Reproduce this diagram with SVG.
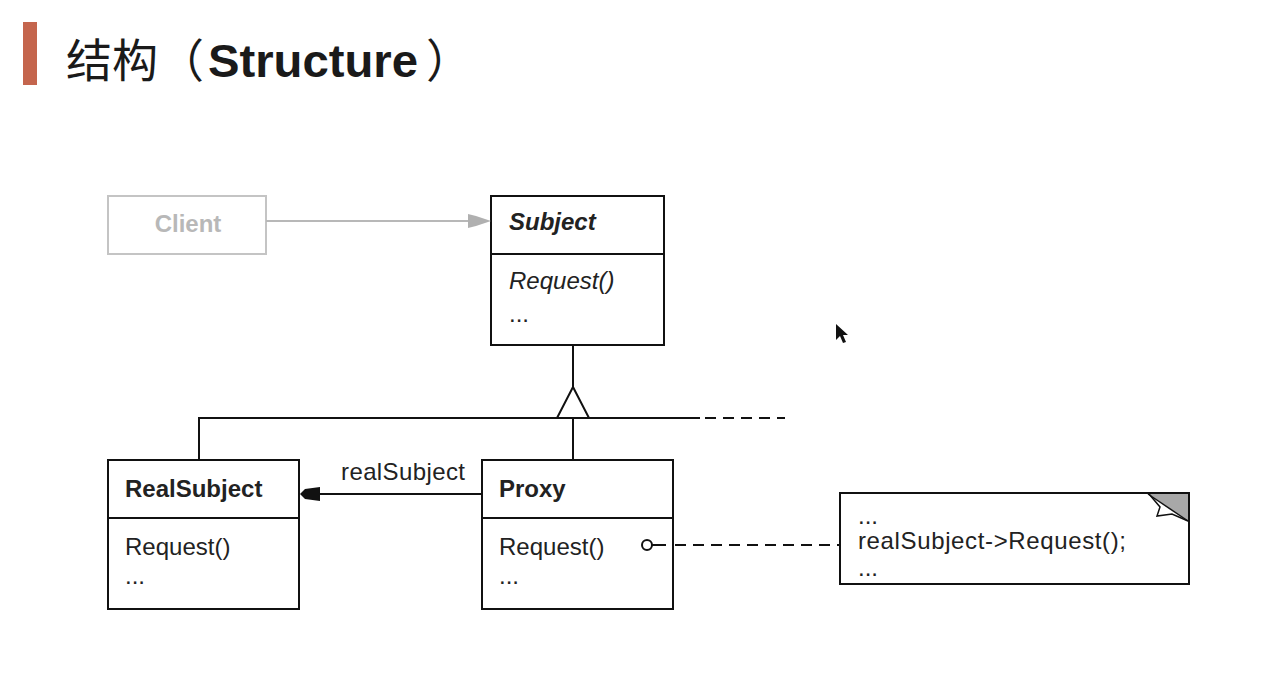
<svg xmlns="http://www.w3.org/2000/svg" width="1284" height="685" viewBox="0 0 1284 685">
  <style>
    .box { fill: #ffffff; stroke: #111111; stroke-width: 2; }
    .ln { fill: none; stroke: #111111; stroke-width: 2; }
    .dash { fill: none; stroke: #111111; stroke-width: 2; stroke-dasharray: 11 7; }
    .t { font-family: "Liberation Sans", Arial, sans-serif; font-size: 24px; fill: #222222; }
    .b { font-weight: bold; }
    .i { font-style: italic; }
    .title { font-family: "Liberation Sans", "Noto Sans CJK SC", sans-serif; font-size: 46px; fill: #1a1a1a; }
  </style>

  <rect width="1284" height="685" fill="#ffffff"/>

  <!-- heading -->
  <g id="heading">
    <rect x="23" y="22" width="14" height="63" fill="#c4654d"/>
    <text class="title" x="66" y="77" font-family="'Noto Sans CJK SC', sans-serif">结构</text>
    <text class="title" x="158" y="77" font-family="'Noto Sans CJK SC', sans-serif">（</text>
    <text class="title b" x="208" y="77" textLength="210" lengthAdjust="spacingAndGlyphs">Structure</text>
    <text class="title" x="426" y="77" font-family="'Noto Sans CJK SC', sans-serif">）</text>
  </g>

  <g id="client">
    <rect x="108" y="196" width="158" height="58" fill="#ffffff" stroke="#c4c4c4" stroke-width="2"/>
    <text class="t b" x="188" y="232" text-anchor="middle" style="fill:#b8b8b8">Client</text>
  </g>

  <g id="subject">
    <rect class="box" x="491" y="196" width="173" height="149"/>
    <line class="ln" x1="491" y1="254" x2="664" y2="254"/>
    <text class="t b i" x="509" y="230">Subject</text>
    <text class="t i" x="509" y="289">Request()</text>
    <text class="t" x="509" y="322">...</text>
  </g>

  <g id="realsubject">
    <rect class="box" x="108" y="460" width="191" height="149"/>
    <line class="ln" x1="108" y1="518" x2="299" y2="518"/>
    <text class="t b" x="125" y="497">RealSubject</text>
    <text class="t" x="125" y="555">Request()</text>
    <text class="t" x="125" y="584">...</text>
  </g>

  <g id="proxy">
    <rect class="box" x="482" y="460" width="191" height="149"/>
    <line class="ln" x1="482" y1="518" x2="673" y2="518"/>
    <text class="t b" x="499" y="497">Proxy</text>
    <text class="t" x="499" y="555">Request()</text>
    <text class="t" x="499" y="584">...</text>
  </g>

  <g id="note">
    <rect class="box" x="840" y="493" width="349" height="91"/>
    <polygon points="1148,494 1188,494 1188,521" fill="#a8a8a8"/>
    <polyline points="1149,494 1160,507 1157,516 1172,514 1188,521" fill="#ffffff" stroke="#111111" stroke-width="1.5"/>
    <line x1="1148" y1="494" x2="1188" y2="521" stroke="#111111" stroke-width="1.5"/>
    <text class="t" x="858" y="524">...</text>
    <text class="t" x="858" y="549" textLength="268">realSubject-&gt;Request();</text>
    <text class="t" x="858" y="576">...</text>
  </g>

  <!-- connectors -->
  <g id="connectors">
    <!-- Client -> Subject -->
    <line x1="266" y1="221" x2="470" y2="221" stroke="#b8b8b8" stroke-width="2"/>
    <polygon points="468,214 476,216 491,221 476,226 468,228" fill="#b0b0b0"/>
    <!-- inheritance -->
    <line class="ln" x1="573" y1="345" x2="573" y2="387"/>
    <polygon points="573,387 557,418 589,418" fill="#ffffff" stroke="#111111" stroke-width="2"/>
    <polyline class="ln" points="199,460 199,418 700,418"/>
    <line class="dash" x1="705" y1="418" x2="785" y2="418"/>
    <line class="ln" x1="573" y1="418" x2="573" y2="460"/>
    <!-- realSubject reference -->
    <line class="ln" x1="482" y1="494" x2="318" y2="494"/>
    <polygon points="300,494 305,489 320,487 320,501 305,499" fill="#111111"/>
    <text class="t" x="341" y="480" textLength="124">realSubject</text>
    <!-- note attachment -->
    <circle cx="647" cy="545" r="5" fill="#ffffff" stroke="#111111" stroke-width="2"/>
    <line class="ln" x1="652" y1="545" x2="666" y2="545"/>
    <line class="dash" x1="675" y1="545" x2="840" y2="545"/>
  </g>

  <!-- pointer -->
  <polygon points="836,324 836,340 840,336 843,343 846,342 843,335 848,335" fill="#111111"/>
</svg>
